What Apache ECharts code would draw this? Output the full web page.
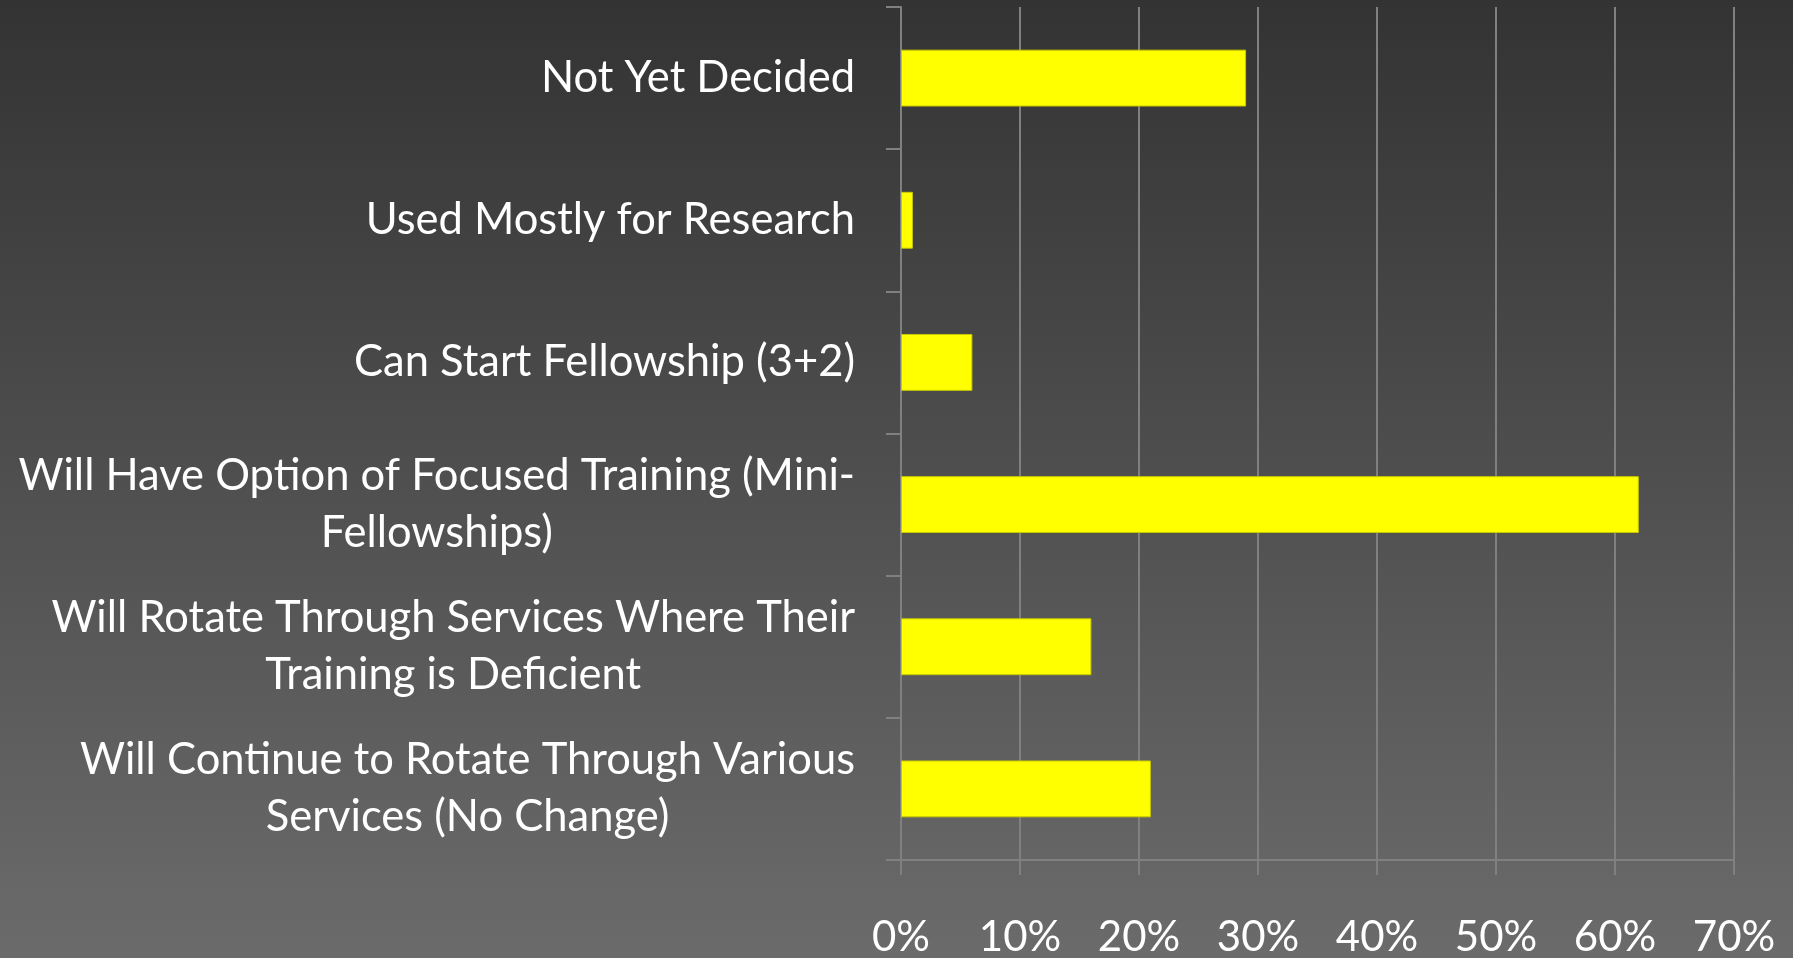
<!DOCTYPE html>
<html>
<head>
<meta charset="utf-8">
<script src="https://cdn.jsdelivr.net/npm/echarts@6/dist/echarts.min.js"></script>
<style>
  html, body { margin: 0; padding: 0; width: 100%; height: 100%; }
  #chart { width: 1793px; height: 958px; }
</style>
</head>
<body>
<div id="chart"></div>
<script>
// 类目(从上到下)
const categories = [
  'Not Yet Decided',
  'Used Mostly for Research',
  'Can Start Fellowship (3+2)',
  'Will Have Option of Focused Training (Mini-\nFellowships)',
  'Will Rotate Through Services Where Their\nTraining is Deficient',
  'Will Continue to Rotate Through Various\nServices (No Change)'
]
// 百分比数值
const values = [29, 1, 6, 62, 16, 21]
// x轴刻度
const xMin = 0
const xMax = 70
const xStep = 10

const mycharts = echarts.init(document.getElementById('chart'))
mycharts.setOption({
  backgroundColor: {
    type: 'linear', x: 0, y: 0, x2: 0, y2: 1,
    colorStops: [
      { offset: 0, color: '#333333' },
      { offset: 1, color: '#6b6b6b' }
    ]
  },
  textStyle: { fontFamily: 'Lato' },
  grid: { left: 901, right: 59, top: 7, bottom: 96 },
  xAxis: {
    type: 'value',
    min: xMin,
    max: xMax,
    interval: xStep,
    axisLine: { show: true, lineStyle: { color: '#808080', width: 2 } },
    axisTick: { show: true, length: 15, lineStyle: { color: '#808080', width: 2 } },
    splitLine: { show: true, lineStyle: { color: '#808080', width: 2 } },
    axisLabel: {
      color: '#ffffff',
      fontSize: 42,
      margin: 56,
      formatter: '{value}%'
    }
  },
  yAxis: {
    type: 'category',
    data: categories,
    inverse: true,
    axisLine: { show: true, lineStyle: { color: '#808080', width: 2 } },
    axisTick: { show: true, length: 15, lineStyle: { color: '#808080', width: 2 } },
    axisLabel: {
      color: '#ffffff',
      margin: 46,
      formatter: function (v) {
        return v.split('\n').map(l => '{c|' + l + '}').join('\n')
      },
      rich: {
        c: { align: 'center', color: '#ffffff', fontSize: 43.5, lineHeight: 57, fontFamily: 'Lato' }
      }
    }
  },
  series: [
    {
      type: 'bar',
      data: values,
      barWidth: '40%',
      itemStyle: { color: '#ffff00', borderColor: '#c8c800', borderWidth: 1 }
    }
  ]
})
</script>
</body>
</html>
